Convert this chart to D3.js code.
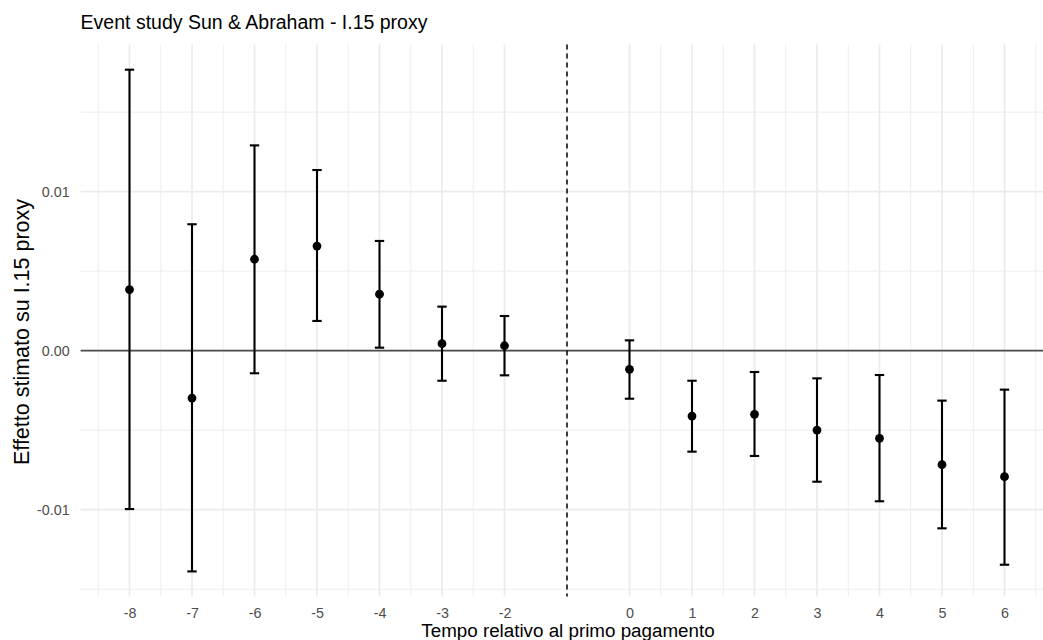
<!DOCTYPE html>
<html>
<head>
<meta charset="utf-8">
<script src="https://cdn.jsdelivr.net/npm/d3@7"></script>
<style>
  body { margin: 0; background: #fff; }
  svg { display: block; font-family: "Liberation Sans", Arial, sans-serif; }
</style>
</head>
<body>
<div id="chart"></div>
<script>
// event study estimates
const periods   = [-8, -7, -6, -5, -4, -3, -2, 0, 1, 2, 3, 4, 5, 6];
const estimates = [0.00384, -0.00298, 0.00575, 0.00658, 0.00355, 0.00044, 0.00031,
                   -0.00117, -0.00411, -0.00400, -0.00499, -0.00551, -0.00717, -0.00792];
const ciLow     = [-0.00996, -0.01388, -0.00142, 0.00187, 0.00019, -0.00189, -0.00155,
                   -0.00302, -0.00635, -0.00662, -0.00824, -0.00947, -0.01117, -0.01346];
const ciHigh    = [0.01767, 0.00795, 0.01291, 0.01136, 0.00690, 0.00277, 0.00218,
                   0.00065, -0.00189, -0.00134, -0.00174, -0.00153, -0.00314, -0.00245];
const yBreaks   = [-0.01, 0, 0.01];
const yLabels   = ["-0.01", "0.00", "0.01"];
const yMinor    = [-0.015, -0.005, 0.005, 0.015];
const refPeriod = -1;
const capWidth  = 0.15;

const titleText = "Event study Sun & Abraham - I.15 proxy";
const xTitle = "Tempo relativo al primo pagamento";
const yTitle = "Effetto stimato su I.15 proxy";

const W = 1043, H = 640;
const panel = { left: 80.6, right: 1053.4, top: 44.6, bottom: 596.5 };

const rows = periods.map((p, i) => ({ p, est: estimates[i], lo: ciLow[i], hi: ciHigh[i] }));

// ggplot-like 5% expansion
function expand(a, b) { const d = (b - a) * 0.05; return [a - d, b + d]; }
const x = d3.scaleLinear()
  .domain(expand(d3.min(periods) - capWidth / 2, d3.max(periods) + capWidth / 2))
  .range([panel.left, panel.right]);
const y = d3.scaleLinear()
  .domain(expand(d3.min(ciLow), d3.max(ciHigh)))
  .range([panel.bottom, panel.top]);

// minor x breaks: midpoints between consecutive majors, plus outer halves
const xMinor = [periods[0] - 0.5].concat(
  d3.pairs(periods).map(d => (d[0] + d[1]) / 2), [periods[periods.length - 1] + 0.5]);

const svg = d3.select("#chart").append("svg").attr("width", W).attr("height", H);

const grid = svg.append("g");
grid.selectAll(".ymin").data(yMinor).join("line")
  .attr("x1", panel.left).attr("x2", panel.right)
  .attr("y1", d => y(d)).attr("y2", d => y(d))
  .attr("stroke", "#ebebeb").attr("stroke-width", 0.9);
grid.selectAll(".xmin").data(xMinor).join("line")
  .attr("x1", d => x(d)).attr("x2", d => x(d))
  .attr("y1", panel.top).attr("y2", panel.bottom)
  .attr("stroke", "#ebebeb").attr("stroke-width", 0.9);
grid.selectAll(".ymaj").data(yBreaks).join("line")
  .attr("x1", panel.left).attr("x2", panel.right)
  .attr("y1", d => y(d)).attr("y2", d => y(d))
  .attr("stroke", "#ebebeb").attr("stroke-width", 1.7);
grid.selectAll(".xmaj").data(periods).join("line")
  .attr("x1", d => x(d)).attr("x2", d => x(d))
  .attr("y1", panel.top).attr("y2", panel.bottom)
  .attr("stroke", "#ebebeb").attr("stroke-width", 1.7);

// reference lines
svg.append("line")
  .attr("x1", panel.left).attr("x2", panel.right)
  .attr("y1", y(0)).attr("y2", y(0))
  .attr("stroke", "#4d4d4d").attr("stroke-width", 1.8);
svg.append("line")
  .attr("x1", x(refPeriod)).attr("x2", x(refPeriod))
  .attr("y1", panel.top).attr("y2", panel.bottom)
  .attr("stroke", "#000").attr("stroke-width", 1.5)
  .attr("stroke-dasharray", "5,4");

// error bars
const bars = svg.append("g").attr("stroke", "#000").attr("stroke-width", 2.1);
bars.selectAll(".v").data(rows).join("line")
  .attr("x1", d => x(d.p)).attr("x2", d => x(d.p))
  .attr("y1", d => y(d.lo)).attr("y2", d => y(d.hi));
bars.selectAll(".t").data(rows).join("line")
  .attr("x1", d => x(d.p - capWidth / 2)).attr("x2", d => x(d.p + capWidth / 2))
  .attr("y1", d => y(d.hi)).attr("y2", d => y(d.hi));
bars.selectAll(".b").data(rows).join("line")
  .attr("x1", d => x(d.p - capWidth / 2)).attr("x2", d => x(d.p + capWidth / 2))
  .attr("y1", d => y(d.lo)).attr("y2", d => y(d.lo));

svg.append("g").selectAll("circle").data(rows).join("circle")
  .attr("cx", d => x(d.p)).attr("cy", d => y(d.est)).attr("r", 4.4)
  .attr("fill", "#000");

// axes (plain hyphen for negatives, like the reference)
const xAxis = svg.append("g")
  .attr("transform", `translate(0,${panel.bottom})`)
  .call(d3.axisBottom(x).tickValues(periods).tickFormat(d => String(d)).tickSize(0).tickPadding(11.6));
const yAxis = svg.append("g")
  .attr("transform", `translate(${panel.left},0)`)
  .call(d3.axisLeft(y).tickValues(yBreaks).tickFormat((d, i) => yLabels[i]).tickSize(0).tickPadding(11));
[xAxis, yAxis].forEach(a => {
  a.select(".domain").remove();
  a.selectAll("text").attr("fill", "#4d4d4d").style("font-size", "14.3px")
    .style("font-family", "'Liberation Sans', Arial, sans-serif");
});

svg.append("text")
  .attr("x", panel.left).attr("y", 29.3)
  .style("font-size", "19.5px").attr("fill", "#000")
  .text(titleText);
svg.append("text")
  .attr("x", 568).attr("y", 636.5)
  .attr("text-anchor", "middle").style("font-size", "18.8px")
  .text(xTitle);
svg.append("text")
  .attr("transform", "translate(29,332) rotate(-90)")
  .attr("text-anchor", "middle").style("font-size", "21.5px")
  .text(yTitle);
</script>
</body>
</html>
